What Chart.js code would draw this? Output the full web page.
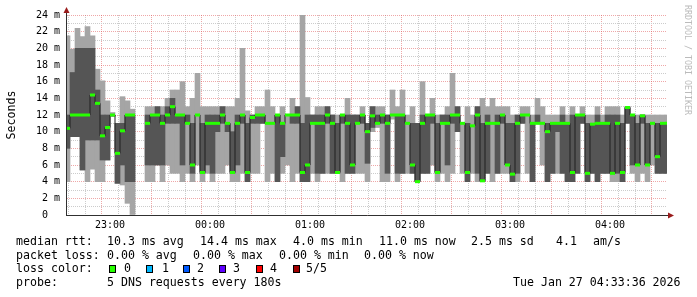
<!DOCTYPE html>
<html>
<head>
<meta charset="utf-8">
<script src="https://cdn.jsdelivr.net/npm/chart.js@4"></script>
<style>
  body { margin: 0; background: #fff; }
  #wrap { position: relative; width: 697px; height: 297px; overflow: hidden; }
  #chart { position: absolute; left: 0; top: 0; }
  .t { position: absolute; font-family: 'DejaVu Sans Mono', monospace; font-size: 11.6px; line-height: 13.5px; color: #000; white-space: pre; }
  .box { position: absolute; top: 265px; width: 5px; height: 6px; border: 1px solid #000; }
  #credit { position: absolute; left: 683px; top: 5px; writing-mode: vertical-rl; font-family: 'DejaVu Sans Mono', monospace; font-size: 8.3px; color: #bbb; white-space: pre; }
</style>
</head>
<body>
<div id="wrap">
  <canvas id="chart" width="697" height="297"></canvas>
  <div id="credit">RRDTOOL / TOBI OETIKER</div>

  <span class="t" style="left:16px;top:235px">median rtt:</span>
  <span class="t" style="left:107px;top:235px">10.3 ms avg</span>
  <span class="t" style="left:200px;top:235px">14.4 ms max</span>
  <span class="t" style="left:293px;top:235px">4.0 ms min</span>
  <span class="t" style="left:379px;top:235px">11.0 ms now</span>
  <span class="t" style="left:471px;top:235px">2.5 ms sd</span>
  <span class="t" style="left:556px;top:235px">4.1</span>
  <span class="t" style="left:593px;top:235px">am/s</span>

  <span class="t" style="left:16px;top:248.5px">packet loss:</span>
  <span class="t" style="left:107px;top:248.5px">0.00 % avg</span>
  <span class="t" style="left:193px;top:248.5px">0.00 % max</span>
  <span class="t" style="left:279px;top:248.5px">0.00 % min</span>
  <span class="t" style="left:364px;top:248.5px">0.00 % now</span>

  <span class="t" style="left:16px;top:262px">loss color:</span>
  <span class="box" style="left:109px;background:#26ff00"></span>
  <span class="t" style="left:124px;top:262px">0</span>
  <span class="box" style="left:146px;background:#00b8ff"></span>
  <span class="t" style="left:162px;top:262px">1</span>
  <span class="box" style="left:183px;background:#0059ff"></span>
  <span class="t" style="left:197px;top:262px">2</span>
  <span class="box" style="left:219px;background:#5e00ff"></span>
  <span class="t" style="left:233px;top:262px">3</span>
  <span class="box" style="left:256px;background:#ff0000"></span>
  <span class="t" style="left:270px;top:262px">4</span>
  <span class="box" style="left:293px;background:#a00000"></span>
  <span class="t" style="left:306px;top:262px">5/5</span>

  <span class="t" style="left:16px;top:275.5px">probe:</span>
  <span class="t" style="left:107px;top:275.5px">5 DNS requests every 180s</span>
  <span class="t" style="left:513px;top:275.5px">Tue Jan 27 04:33:36 2026</span>
</div>

<script>
// minutes relative to 23:00; one sample every 3 minutes, the first one is cut by the left edge
const sampleStart = -25.5;
const sampleStep = 3;

// smoke bands (ms): 5 sorted pings per sample -> min, 2nd, median, 4th, max
const rttMin = [
  4.0, 9.4, 9.4, 5.4, 4.0, 5.5, 4.0, 4.0, 6.6, 11.8, 3.8, 3.6, 1.4, 0.0, null, null,
  4.0, 4.0, 6.0, 4.0, 6.0, 5.0, 5.0, 4.0, 5.0, 4.0, 6.0, 4.0, 5.0, 4.0,
  5.0, 5.0, 6.0, 4.0, 4.0, 5.0, 4.0, 5.0, 5.0, 11.0, 4.0, 5.0, 4.0, 5.0, 6.0, 4.0,
  5.0, 4.0, 4.0, 5.0, 4.0, 5.0, 5.0, 5.0, 5.0, 4.0, 5.0, 5.0, 5.0, 5.0,
  4.0, 10.0, 10.5, 4.0, 4.0, 11.5, 4.0, 5.0, 5.0, 5.0, 4.0, 5.0, 5.0, 6.0, 4.0, 5.0,
  4.0, 5.0, 10.0, 5.0, 4.0, 5.0, 4.0, 4.0, 5.0, 4.0, 5.0, 5.0, 5.0, 4.0,
  4.0, 11.0, 5.0, 4.0, 11.0, 6.0, 4.0, 5.0, 5.0, 5.0, 4.0, 4.0, 5.0, 11.0, 4.0, 5.0,
  4.0, 5.0, 5.0, 4.0, 4.0, 4.0, 11.0, 5.0, 4.0, 5.0, 4.0, 6.0, 5.0, 5.0, 5.0
];
const rttLow = [
  8.0, 9.4, 9.4, 5.4, 9.0, 9.0, 9.0, 6.6, 6.6, 11.9, 3.8, 6.0, 4.0, 4.0, null, null,
  6.0, 6.0, 6.0, 6.0, 11.0, 11.0, 11.0, 6.0, 11.0, 5.0, 12.0, 5.0, 6.0, 5.0,
  10.0, 11.0, 10.0, 5.0, 6.0, 11.0, 4.0, 11.0, 11.0, 11.0, 11.0, 11.0, 4.0, 7.0, 12.0, 11.0,
  11.0, 4.0, 4.0, 11.0, 5.0, 5.0, 11.0, 5.0, 5.0, 11.0, 5.0, 5.0, 11.0, 11.0,
  6.2, 10.5, 11.0, 11.0, 5.0, 12.0, 5.0, 5.0, 11.0, 5.0, 4.0, 5.0, 5.0, 11.0, 5.0, 11.0,
  6.0, 11.0, 10.0, 11.0, 4.0, 10.7, 5.0, 4.0, 5.0, 11.0, 5.0, 11.0, 6.0, 4.0,
  5.0, 11.0, 12.0, 4.0, 11.0, 11.0, 4.0, 5.0, 10.0, 5.0, 4.0, 4.0, 5.0, 11.0, 4.0, 5.0,
  4.0, 5.0, 5.0, 5.0, 5.0, 4.0, 11.0, 6.0, 6.0, 11.0, 6.0, 11.0, 5.0, 5.0, 5.0
];
const rttMedian = [
  10.4, 12.0, 12.0, 12.0, 12.0, 14.4, 13.4, 9.5, 10.5, 12.0, 7.4, 10.1, 12.0, 12.0, null, null,
  11.0, 12.0, 12.0, 11.0, 12.0, 13.0, 12.0, 12.0, 11.0, 6.0, 12.0, 5.1, 11.0, 11.0,
  11.0, 12.0, 11.0, 5.1, 11.0, 12.0, 5.1, 11.7, 12.0, 12.0, 11.0, 11.0, 12.0, 11.0, 12.0, 12.0,
  12.0, 5.1, 6.0, 11.0, 11.0, 11.0, 12.0, 11.0, 5.1, 12.0, 11.0, 6.0, 11.0, 12.0,
  10.0, 11.9, 11.0, 12.0, 11.0, 12.0, 12.0, 12.0, 11.0, 6.0, 4.0, 11.0, 12.0, 12.0, 5.1, 11.0,
  11.0, 12.0, 12.0, 11.0, 5.1, 10.7, 12.0, 4.1, 11.0, 11.0, 11.0, 12.0, 6.0, 4.9,
  11.0, 12.0, 12.0, 11.0, 11.0, 11.0, 10.0, 11.0, 11.0, 11.0, 11.0, 5.1, 12.0, 12.0, 5.0, 10.9,
  11.0, 11.0, 11.0, 5.0, 11.0, 5.1, 12.9, 12.0, 6.0, 11.9, 6.0, 11.0, 7.0, 11.0, 11.0
];
const rttHigh = [
  12.0, 17.1, 20.0, 20.0, 20.0, 20.0, 15.0, 12.0, 12.0, 12.0, 11.0, 11.0, 12.0, 12.0, null, null,
  12.0, 12.0, 13.0, 12.0, 13.0, 14.0, 12.0, 12.0, 12.0, 11.0, 12.0, 11.0, 12.0, 12.0,
  12.0, 13.0, 11.0, 10.0, 12.0, 12.0, 11.0, 12.0, 12.0, 12.0, 11.0, 11.0, 12.0, 11.0, 12.0, 12.0,
  13.0, 11.0, 12.0, 12.0, 12.0, 12.0, 13.0, 12.0, 11.0, 12.0, 12.0, 12.0, 12.0, 12.0,
  11.0, 13.0, 12.0, 12.0, 12.0, 12.0, 12.0, 12.0, 11.0, 11.0, 11.0, 12.0, 12.0, 12.0, 11.0, 12.0,
  12.0, 12.0, 13.0, 11.0, 11.0, 10.7, 13.0, 11.0, 12.0, 11.0, 12.0, 12.0, 11.0, 11.0,
  12.0, 12.0, 12.0, 11.0, 12.0, 11.0, 11.0, 11.0, 11.0, 12.0, 11.0, 12.0, 12.0, 12.0, 11.0, 11.0,
  12.0, 11.0, 12.0, 12.0, 12.0, 11.0, 13.0, 12.0, 11.0, 12.0, 11.0, 11.0, 11.0, 11.0, 11.0
];
const rttMax = [
  21.5, 19.9, 22.4, 21.4, 22.6, 21.5, 17.5, 16.1, 13.7, 12.3, 11.0, 14.2, 13.7, 12.7, null, null,
  13.0, 13.0, 13.0, 13.0, 14.0, 15.0, 15.0, 16.0, 13.0, 14.0, 17.0, 13.0, 13.0, 13.0,
  13.0, 13.0, 13.0, 13.0, 14.0, 20.0, 12.5, 12.0, 13.0, 13.0, 15.0, 13.0, 12.0, 13.0, 12.0, 14.0,
  13.0, 24.0, 14.1, 12.0, 13.0, 13.0, 13.0, 12.0, 12.0, 12.0, 14.0, 12.0, 12.0, 13.0,
  11.0, 13.0, 13.0, 13.0, 12.0, 15.0, 13.0, 15.0, 12.0, 13.0, 11.0, 16.0, 12.0, 14.0, 12.0, 12.0,
  13.0, 17.0, 13.0, 11.0, 13.0, 12.0, 13.0, 14.0, 13.0, 14.0, 13.0, 13.0, 13.0, 12.0,
  12.0, 13.0, 13.0, 12.0, 14.0, 13.0, 12.0, 12.0, 12.0, 13.0, 12.0, 13.0, 12.0, 13.0, 12.0, 12.0,
  13.0, 12.0, 13.0, 13.0, 13.0, 12.0, 13.0, 12.0, 12.0, 12.0, 12.0, 12.0, 12.0, 12.0, 12.0
];

const hourTicks = [0, 60, 120, 180, 240, 300];
const hourLabels = ['23:00', '00:00', '01:00', '02:00', '03:00', '04:00'];

const monoFont = 'DejaVu Sans Mono';
const lossGreen = '#26ff00';
const minorGrid = '#cccccc';
const majorGrid = 'rgba(224, 80, 80, 0.5)';

const sampleTimes = rttMedian.map((_, i) => sampleStart + i * sampleStep);
const band = (lo, hi) => sampleTimes
    .map((t, i) => ({ x: t, y: [lo[i], hi[i]] }))
    .filter(p => p.y[0] !== null);
const medianPoints = sampleTimes.map((t, i) => ({ x: t, y: rttMedian[i] }));

const gridMinutes = [];
for (let m = -20; m <= 330; m += 10) gridMinutes.push(m);
const gridMs = [];
for (let v = 0; v <= 24; v++) gridMs.push(v);

// rrdtool style axes with small arrow heads
const axisArrows = {
    id: 'axisArrows',
    afterDatasetsDraw(chart) {
        const { ctx, chartArea: a } = chart;
        const x0 = a.left - 0.5, y0 = a.bottom + 0.5;
        ctx.save();
        ctx.strokeStyle = '#303030';
        ctx.lineWidth = 1;
        ctx.beginPath();
        ctx.moveTo(x0, a.bottom + 1);
        ctx.lineTo(x0, a.top - 3);
        ctx.moveTo(x0 - 0.5, y0);
        ctx.lineTo(a.right + 2, y0);
        ctx.stroke();
        ctx.fillStyle = '#9a1c1c';
        ctx.beginPath();
        ctx.moveTo(x0 - 3, a.top - 2);
        ctx.lineTo(x0 + 3, a.top - 2);
        ctx.lineTo(x0, a.top - 8);
        ctx.closePath();
        ctx.fill();
        ctx.beginPath();
        ctx.moveTo(a.right + 1, y0 - 3);
        ctx.lineTo(a.right + 1, y0 + 3);
        ctx.lineTo(a.right + 7, y0);
        ctx.closePath();
        ctx.fill();
        ctx.restore();
    }
};

const barCommon = { type: 'bar', grouped: false, barPercentage: 1, categoryPercentage: 1, borderWidth: 0, clip: 0 };

new Chart(document.getElementById('chart').getContext('2d'), {
    type: 'bar',
    data: {
        datasets: [
            {
                type: 'line', label: 'median', data: medianPoints, showLine: false,
                pointStyle: 'line', pointRadius: 2.5, pointBorderWidth: 3,
                pointBorderColor: lossGreen, pointBackgroundColor: lossGreen, order: 0, clip: 0
            },
            {
                type: 'line', label: 'median line', data: medianPoints, stepped: 'middle',
                borderColor: '#202020', borderWidth: 1, pointRadius: 0, spanGaps: false, order: 1, clip: 0
            },
            Object.assign({ label: 'inner smoke', data: band(rttLow, rttHigh), backgroundColor: '#555555', order: 2 }, barCommon),
            Object.assign({ label: 'outer smoke', data: band(rttMin, rttMax), backgroundColor: '#a5a5a5', order: 3 }, barCommon)
        ]
    },
    options: {
        responsive: false,
        animation: false,
        devicePixelRatio: 1,
        layout: { padding: { top: 15, right: 30, left: 0, bottom: 0 } },
        plugins: { legend: { display: false }, tooltip: { enabled: false } },
        scales: {
            x: {
                type: 'linear', min: -25.8, max: 334.2, offset: false,
                afterBuildTicks: s => { s.ticks = gridMinutes.map(v => ({ value: v })); },
                afterFit: s => { s.height = 82; },
                grid: { color: c => (c.tick && c.tick.value % 30 === 0) ? majorGrid : minorGrid, drawTicks: false, lineWidth: 1 },
                border: { display: false, dash: [1, 1] },
                ticks: {
                    autoSkip: false, maxRotation: 0, padding: 4, color: '#000',
                    font: { family: monoFont, size: 10 },
                    callback: v => { const k = hourTicks.indexOf(v); return k >= 0 ? hourLabels[k] : ''; }
                }
            },
            y: {
                min: 0, max: 24,
                afterBuildTicks: s => { s.ticks = gridMs.map(v => ({ value: v })); },
                afterFit: s => { s.width = 67; },
                grid: { color: c => (c.tick && c.tick.value % 2 === 0) ? majorGrid : minorGrid, drawTicks: false, lineWidth: 1 },
                border: { display: false, dash: [1, 1] },
                ticks: {
                    autoSkip: false, padding: 7, color: '#000',
                    font: { family: monoFont, size: 10 },
                    callback: v => v % 2 ? '' : (v === 0 ? '0  ' : v + ' m')
                },
                title: {
                    display: true, text: 'Seconds', color: '#000',
                    font: { family: monoFont, size: 11.6 }, padding: { top: 5, bottom: 0 }
                }
            }
        }
    },
    plugins: [axisArrows]
});
</script>
</body>
</html>
